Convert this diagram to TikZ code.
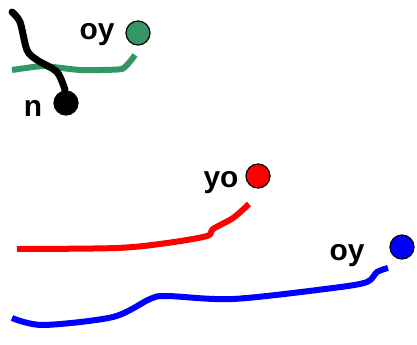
\documentclass[tikz,border=0pt]{standalone}
\usepackage{fontspec}
\setmainfont{Liberation Sans}
\begin{document}
\begin{tikzpicture}[x=1bp,y=-1bp,
  dot/.style={circle,draw=black,line width=1.2bp,minimum size=24bp,inner sep=0pt},
  lbl/.style={font=\fontsize{30}{32}\selectfont\bfseries,inner sep=0pt},
  stroke/.style={line width=6bp,line cap=round,line join=round}]
\useasboundingbox (0,0) rectangle (417,345);
\definecolor{dgreen}{RGB}{52,150,100}
% green
\draw[stroke,dgreen,line cap=butt] plot[smooth,tension=0.25] coordinates {(12,70) (43,66) (80,70) (122,69) (135,55)};
\node[dot,fill=dgreen] (g) at (138,33) {};
\node[lbl] (gl) at (97,35) {oy};
% black
\draw[stroke,line width=7bp,black] plot[smooth,tension=0.5] coordinates {(12,12) (20,22) (27,50) (37,60) (57,72) (65,90)};
\node[dot,fill=black] (k) at (66,103) {};
\node[lbl] (kl) at (33,108) {n};
% red
\draw[stroke,red,line cap=butt] plot[smooth,tension=0.5] coordinates {(17,249) (117,248) (167,243) (207,236) (213,229) (233,218) (249,204)};
\node[dot,fill=red] (r) at (258,176) {};
\node[lbl] (rl) at (221,183) {yo};
% blue
\draw[stroke,blue,line cap=butt] plot[smooth,tension=0.5] coordinates {(12,318) (43,325) (113,317) (150,299) (167,296) (233,299) (333,288) (367,282) (377,272) (388,268)};
\node[dot,fill=blue] (b) at (402,247) {};
\node[lbl] (bl) at (347,256) {oy};
\end{tikzpicture}
\end{document}
